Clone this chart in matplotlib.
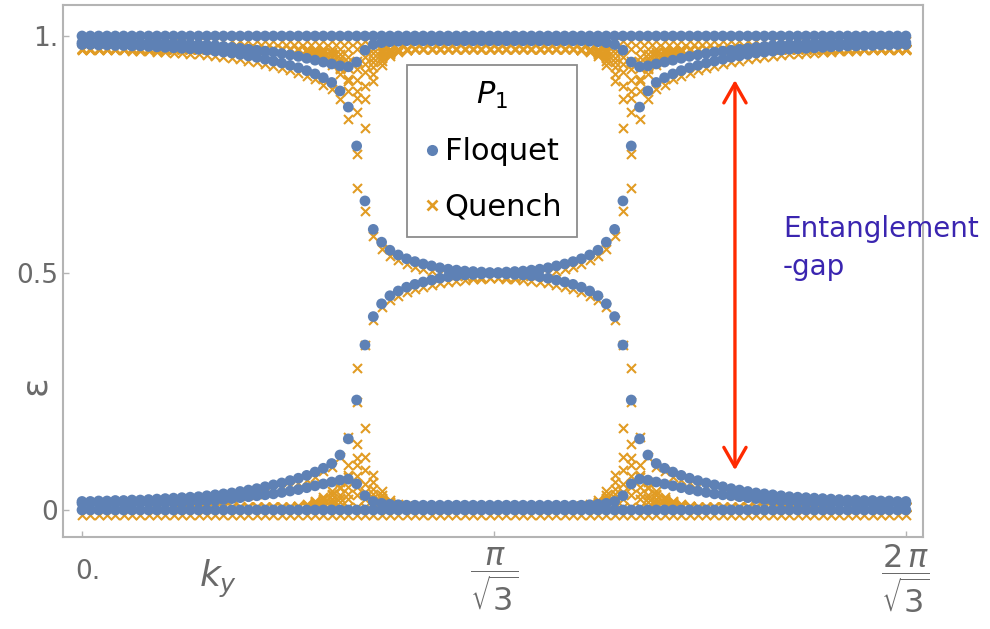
import numpy as np
import matplotlib.pyplot as plt
from matplotlib.lines import Line2D
from matplotlib.patches import FancyArrowPatch
from matplotlib.transforms import offset_copy, ScaledTranslation

plt.rcParams['font.family'] = ['DejaVu Sans']
plt.rcParams['mathtext.fontset'] = 'dejavusans'

blue = '#5E81B5'
orange = '#E19C24'
frame_gray = '#B4B4B4'
label_gray = '#6A6A6A'

# momentum grid along the cut
n_k = 100
ky = np.linspace(0, 2 * np.pi / np.sqrt(3), n_k)

# upper half of the spectrum for the left half of the cut (ky index 0..49);
# the spectrum is symmetric under ky -> 2pi/sqrt3 - ky and eps -> 1 - eps
floquet_edge = [0.982, 0.982, 0.981, 0.981, 0.980, 0.980, 0.979, 0.979, 0.978, 0.977,
                0.976, 0.975, 0.974, 0.973, 0.972, 0.970, 0.968, 0.966, 0.964, 0.961,
                0.958, 0.955, 0.951, 0.947, 0.943, 0.938, 0.933, 0.927, 0.920, 0.912,
                0.902, 0.884, 0.850, 0.768, 0.652, 0.592, 0.565, 0.548, 0.538, 0.530,
                0.524, 0.519, 0.515, 0.511, 0.508, 0.506, 0.504, 0.503, 0.502, 0.501]
floquet_side = [0.986, 0.986, 0.986, 0.986, 0.986, 0.986, 0.986, 0.985, 0.985, 0.985,
                0.985, 0.984, 0.984, 0.983, 0.982, 0.981, 0.980, 0.978, 0.976, 0.974,
                0.972, 0.970, 0.968, 0.966, 0.963, 0.960, 0.957, 0.953, 0.949, 0.945,
                0.941, 0.937, 0.935, 0.945, 0.970, 0.982, 0.986, 0.988, 0.989, 0.990,
                0.990, 0.990, 0.990, 0.990, 0.990, 0.990, 0.990, 0.990, 0.990, 0.990]
floquet_flat = [1.0]

quench_edge = [0.982, 0.982, 0.981, 0.981, 0.980, 0.980, 0.979, 0.979, 0.978, 0.977,
               0.976, 0.975, 0.974, 0.973, 0.972, 0.970, 0.968, 0.966, 0.964, 0.961,
               0.958, 0.955, 0.951, 0.947, 0.943, 0.938, 0.933, 0.927, 0.920, 0.908,
               0.898, 0.878, 0.835, 0.762, 0.642, 0.588, 0.562, 0.546, 0.537, 0.529,
               0.523, 0.518, 0.514, 0.511, 0.508, 0.506, 0.504, 0.503, 0.502, 0.501]
quench_flat = [1.0, 0.983]

# quench bands dipping near the gap closing, ky index 26..41
wedge_start = 26
quench_wedge = [
    [0.980, 0.976, 0.970, 0.962, 0.950, 0.930, 0.895, 0.850, 0.905, 0.945, 0.965, 0.975, 0.980, 0.982, 0.983, 0.983],
    [0.982, 0.979, 0.975, 0.968, 0.958, 0.943, 0.920, 0.880, 0.817, 0.915, 0.950, 0.968, 0.977, 0.981, 0.983, 0.983],
    [0.981, 0.978, 0.973, 0.966, 0.956, 0.940, 0.915, 0.895, 0.877, 0.930, 0.958, 0.972, 0.979, 0.982, 0.983, 0.983],
    [0.983, 0.981, 0.978, 0.974, 0.967, 0.957, 0.942, 0.918, 0.935, 0.955, 0.968, 0.976, 0.980, 0.982, 0.983, 0.983],
    [0.983, 0.982, 0.980, 0.977, 0.972, 0.965, 0.955, 0.940, 0.952, 0.965, 0.974, 0.979, 0.982, 0.983, 0.983, 0.983],
    [0.983, 0.983, 0.982, 0.980, 0.977, 0.972, 0.966, 0.958, 0.966, 0.974, 0.979, 0.982, 0.983, 0.983, 0.983, 0.983],
]
quench_extra_idx = [33]
quench_extra_eps = [0.690]

x_ticks = [0, np.pi / np.sqrt(3), 2 * np.pi / np.sqrt(3)]
x_ticklabels = ['0.', r'$\dfrac{\pi}{\sqrt{3}}$', r'$\dfrac{2\,\pi}{\sqrt{3}}$']
y_ticks = [0, 0.5, 1]
y_ticklabels = ['0', '0.5', '1.']


def mirror(half):
    half = np.asarray(half, dtype=float)
    return np.concatenate([half, half[::-1]])


def both_halves(bands):
    # add the particle-hole partners below 1/2
    bands = [np.asarray(b) for b in bands]
    return bands + [1 - b for b in bands]


f_bands = [mirror(floquet_edge), mirror(floquet_side)]
f_bands += [np.full(n_k, v) for v in floquet_flat]
f_bands = both_halves(f_bands)

q_bands = [mirror(quench_edge)]
q_bands += [np.full(n_k, v) for v in quench_flat]
for row in quench_wedge:
    half = np.full(n_k // 2, quench_flat[1])
    half[wedge_start:wedge_start + len(row)] = row
    q_bands.append(mirror(half))
q_bands = both_halves(q_bands)

extra_idx = np.array(quench_extra_idx + [n_k - 1 - i for i in quench_extra_idx])
extra_eps = np.array(quench_extra_eps * 2)
q_x = np.concatenate([ky] * len(q_bands) + [ky[extra_idx]] * 2)
q_y = np.concatenate(q_bands + [extra_eps, 1 - extra_eps])
f_x = np.concatenate([ky] * len(f_bands))
f_y = np.concatenate(f_bands)

fig = plt.figure(figsize=(9.9, 6.29), dpi=100)
ax = fig.add_axes([63 / 990, 1 - 537 / 629, 860 / 990, 532 / 629])
ax.set_xlim(-0.0837, 3.703)
ax.set_ylim(-0.057, 1.0654)

# the x glyphs sit a little below their value, as in the original rendering
q_trans = offset_copy(ax.transData, fig=fig, x=0, y=-5, units='dots')
ax.scatter(q_x, q_y, marker='x', s=42, linewidths=1.5, color=orange,
           transform=q_trans, zorder=2)
ax.scatter(f_x, f_y, marker='o', s=60, color=blue, edgecolors='none', zorder=3)

for side in ['left', 'right', 'top', 'bottom']:
    ax.spines[side].set_color(frame_gray)
    ax.spines[side].set_linewidth(1.5)
ax.set_xticks(x_ticks)
ax.set_xticklabels(x_ticklabels)
ax.set_yticks(y_ticks)
ax.set_yticklabels(y_ticklabels)
ax.tick_params(direction='in', length=4, width=1, color=frame_gray,
               labelcolor=label_gray, labelsize=19)
ax.tick_params(axis='x', pad=25)

# fractions hang a bit lower than the plain "0." label
for i, lbl in enumerate(ax.get_xticklabels()):
    lbl.set_va('center')
    if i == 0:
        shift = ScaledTranslation(6 / 100, 0, fig.dpi_scale_trans)
    else:
        lbl.set_fontsize(23)
        shift = ScaledTranslation(0, -8 / 100, fig.dpi_scale_trans)
    lbl.set_transform(lbl.get_transform() + shift)

ax.set_xlabel(r'$k_y$', fontsize=26, color=label_gray)
ax.xaxis.set_label_coords(0.18, -0.04)
ax.set_ylabel('ε', fontsize=26, color=label_gray)
ax.yaxis.set_label_coords(-0.013, 0.286)

handles = [Line2D([], [], ls='', marker='o', ms=8, color=blue, mec='none'),
           Line2D([], [], ls='', marker='x', ms=7, mew=1.9, color=orange)]
leg = ax.legend(handles, ['Floquet', 'Quench'], title=r'$P_1$',
                loc='upper left', bbox_to_anchor=(407 / 990, 1 - 65 / 629),
                bbox_transform=fig.transFigure, fontsize=22, title_fontsize=22,
                fancybox=False, edgecolor='#8C8C8C', framealpha=1,
                borderpad=0.5, labelspacing=0.85, handletextpad=0.08,
                handlelength=0.65, borderaxespad=0)
leg.get_frame().set_linewidth(1.3)

arrow = FancyArrowPatch((2.875, 0.084), (2.875, 0.907),
                        arrowstyle='<->,head_length=0.7,head_width=0.4',
                        mutation_scale=20, color='#FF2A00', lw=2.4,
                        shrinkA=0, shrinkB=0, zorder=4)
ax.add_patch(arrow)
ax.text(3.087, 0.553, 'Entanglement\n-gap', fontsize=20, color='#3A25B0',
        ha='left', va='center', linespacing=1.45, clip_on=False, zorder=5)

fig.savefig('out.png', dpi=100)
